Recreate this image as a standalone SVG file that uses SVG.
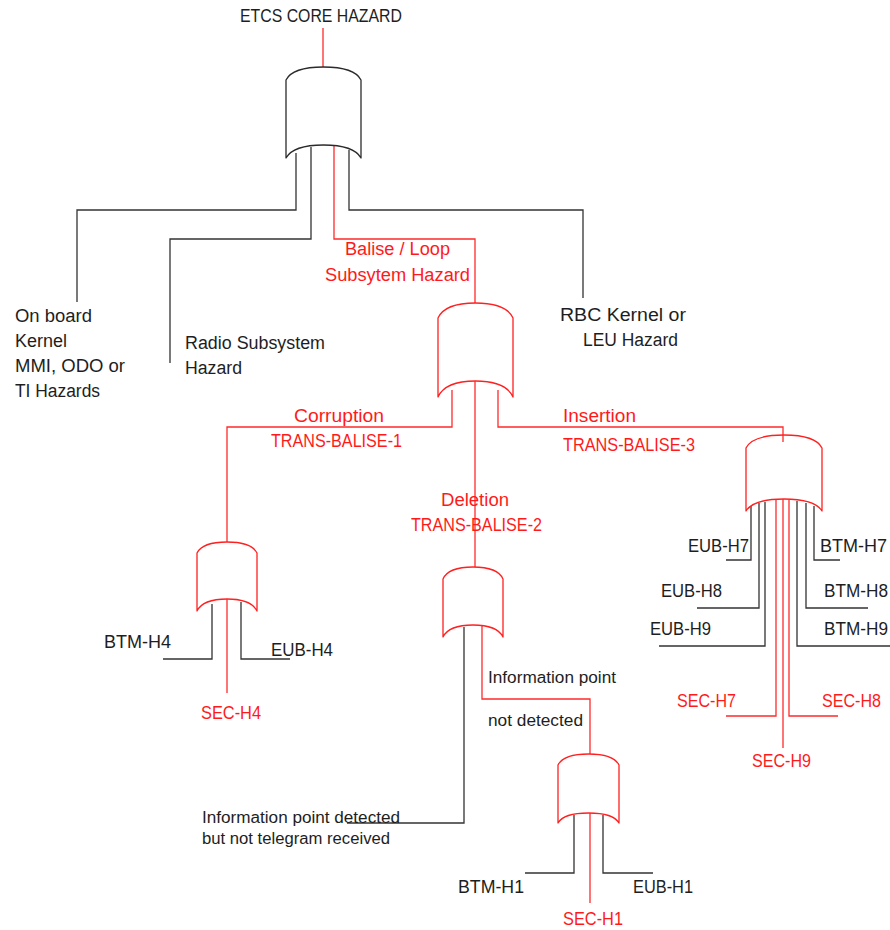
<svg xmlns="http://www.w3.org/2000/svg" width="890" height="930" viewBox="0 0 890 930">
  <style>
    .gate { fill: none; stroke-width: 1.3; stroke-linejoin: round; }
    .gk { stroke: #2b2b2b; }
    .gr { stroke: #ff2020; }
    .wk { fill: none; stroke: #333333; stroke-width: 1.3; }
    .wr { fill: none; stroke: #ff2a2a; stroke-width: 1.3; }
    text { font-family: "Liberation Sans", Arial, sans-serif; font-size: 18px; }
    .tk { fill: #1e1e1e; }
    .tr { fill: #ff1a1a; }
    .sm { font-size: 16px; }
  </style>
  <rect width="890" height="930" fill="#ffffff"/>

  <!-- wiring between gates and events -->
  <g id="connectors">
    <!-- top gate -->
    <polyline class="wr" points="323,28 323,67"/>
    <polyline class="wk" points="296,153 296,210 77,210 77,302"/>
    <polyline class="wk" points="311,147 311,239 170,239 170,363"/>
    <polyline class="wr" points="334,146 334,239 475,239 475,303"/>
    <polyline class="wk" points="349,150 349,210 583,210 583,298"/>
    <!-- balise / loop gate -->
    <polyline class="wr" points="452,390 452,427 227,427 227,542"/>
    <polyline class="wr" points="475,381 475,567"/>
    <polyline class="wr" points="498,390 498,427 783,427 783,442"/>
    <!-- corruption gate -->
    <polyline class="wk" points="212,604 212,659 163,659"/>
    <polyline class="wr" points="227,599 227,693"/>
    <polyline class="wk" points="241,602 241,659 290,659"/>
    <!-- deletion gate -->
    <polyline class="wk" points="464,627 464,823 347,823"/>
    <polyline class="wr" points="482,626 482,699 590,699 590,754"/>
    <!-- H1 gate -->
    <polyline class="wk" points="574,815 574,873 525,873"/>
    <polyline class="wr" points="590,813 590,903"/>
    <polyline class="wk" points="603,815 603,873 653,873"/>
    <!-- insertion gate -->
    <polyline class="wk" points="751,506 751,560 726,560"/>
    <polyline class="wk" points="759,503 759,608 697,608"/>
    <polyline class="wk" points="765,502 765,646 659,646"/>
    <polyline class="wr" points="776,500 776,716 726,716"/>
    <polyline class="wr" points="783,499 783,748"/>
    <polyline class="wr" points="789,500 789,716 838,716"/>
    <polyline class="wk" points="797,501 797,646 890,646"/>
    <polyline class="wk" points="806,503 806,608 868,608"/>
    <polyline class="wk" points="814,506 814,560 840,560"/>
  </g>

  <!-- OR gates -->
  <g id="gate-core">
    <path class="gate gk" d="M286,158 L286,80 C291,70 305,67 323.5,67 C342,67 356,70 361,80 L361,158 C356,149 342,145 323.5,145 C305,145 291,149 286,158 Z"/>
  </g>
  <g id="gate-balise">
    <path class="gate gr" d="M438,397 L438,318 C443,307 457,303 475.5,303 C494,303 508,307 513,318 L513,397 C508,386 494,381 475.5,381 C457,381 443,386 438,397 Z"/>
  </g>
  <g id="gate-corruption">
    <path class="gate gr" d="M197,611 L197,553 C201,545 212,542 227,542 C242,542 253,545 257,553 L257,611 C253,603 242,599 227,599 C212,599 201,603 197,611 Z"/>
  </g>
  <g id="gate-deletion">
    <path class="gate gr" d="M443,637 L443,579 C447,570 458,567 473,567 C488,567 499,570 503,579 L503,637 C499,629 488,625 473,625 C458,625 447,629 443,637 Z"/>
  </g>
  <g id="gate-insertion">
    <path class="gate gr" d="M746,511 L746,448 C751,438 765,435 784,435 C803,435 817,438 822,448 L822,511 C817,503 803,499 784,499 C765,499 751,503 746,511 Z"/>
  </g>
  <g id="gate-h1">
    <path class="gate gr" d="M558,823 L558,765 C562,757 573,754 588.5,754 C604,754 615,757 619,765 L619,823 C615,816 604,813 588.5,813 C573,813 562,816 558,823 Z"/>
  </g>

  <!-- event labels -->
  <g id="top-event">
    <text class="tk" x="240" y="22" textLength="162" lengthAdjust="spacingAndGlyphs">ETCS CORE HAZARD</text>
  </g>
  <g id="onboard-hazard">
    <text class="tk" x="15" y="322" textLength="77" lengthAdjust="spacingAndGlyphs">On board</text>
    <text class="tk" x="15" y="347" textLength="52" lengthAdjust="spacingAndGlyphs">Kernel</text>
    <text class="tk" x="15" y="372" textLength="110" lengthAdjust="spacingAndGlyphs">MMI, ODO or</text>
    <text class="tk" x="15" y="397" textLength="85" lengthAdjust="spacingAndGlyphs">TI Hazards</text>
  </g>
  <g id="radio-hazard">
    <text class="tk" x="185" y="349" textLength="140" lengthAdjust="spacingAndGlyphs">Radio Subsystem</text>
    <text class="tk" x="185" y="374" textLength="57" lengthAdjust="spacingAndGlyphs">Hazard</text>
  </g>
  <g id="balise-hazard">
    <text class="tr" x="345" y="255" textLength="105" lengthAdjust="spacingAndGlyphs">Balise / Loop</text>
    <text class="tr" x="325" y="281" textLength="145" lengthAdjust="spacingAndGlyphs">Subsytem Hazard</text>
  </g>
  <g id="rbc-hazard">
    <text class="tk" x="560" y="321" textLength="126" lengthAdjust="spacingAndGlyphs">RBC Kernel or</text>
    <text class="tk" x="583" y="346" textLength="95" lengthAdjust="spacingAndGlyphs">LEU Hazard</text>
  </g>
  <g id="trans-balise-1">
    <text class="tr" x="294" y="422" textLength="90" lengthAdjust="spacingAndGlyphs">Corruption</text>
    <text class="tr" x="271" y="447" textLength="131" lengthAdjust="spacingAndGlyphs">TRANS-BALISE-1</text>
  </g>
  <g id="trans-balise-2">
    <text class="tr" x="441" y="506" textLength="68" lengthAdjust="spacingAndGlyphs">Deletion</text>
    <text class="tr" x="411" y="531" textLength="131" lengthAdjust="spacingAndGlyphs">TRANS-BALISE-2</text>
  </g>
  <g id="trans-balise-3">
    <text class="tr" x="563" y="422" textLength="73" lengthAdjust="spacingAndGlyphs">Insertion</text>
    <text class="tr" x="563" y="451" textLength="132" lengthAdjust="spacingAndGlyphs">TRANS-BALISE-3</text>
  </g>
  <g id="btm-h4"><text class="tk" x="104" y="648" textLength="67" lengthAdjust="spacingAndGlyphs">BTM-H4</text></g>
  <g id="eub-h4"><text class="tk" x="271" y="656" textLength="62" lengthAdjust="spacingAndGlyphs">EUB-H4</text></g>
  <g id="sec-h4"><text class="tr" x="201" y="719" textLength="60" lengthAdjust="spacingAndGlyphs">SEC-H4</text></g>
  <g id="ip-not-detected">
    <text class="tk sm" x="488" y="683" textLength="128" lengthAdjust="spacingAndGlyphs">Information point</text>
    <text class="tk sm" x="488" y="726" textLength="95" lengthAdjust="spacingAndGlyphs">not detected</text>
  </g>
  <g id="ip-detected">
    <text class="tk sm" x="202" y="823" textLength="198" lengthAdjust="spacingAndGlyphs">Information point detected</text>
    <text class="tk sm" x="202" y="844" textLength="188" lengthAdjust="spacingAndGlyphs">but not telegram received</text>
  </g>
  <g id="btm-h1"><text class="tk" x="458" y="893" textLength="66" lengthAdjust="spacingAndGlyphs">BTM-H1</text></g>
  <g id="eub-h1"><text class="tk" x="633" y="893" textLength="60" lengthAdjust="spacingAndGlyphs">EUB-H1</text></g>
  <g id="sec-h1"><text class="tr" x="563" y="925" textLength="60" lengthAdjust="spacingAndGlyphs">SEC-H1</text></g>
  <g id="eub-h7"><text class="tk" x="688" y="552" textLength="61" lengthAdjust="spacingAndGlyphs">EUB-H7</text></g>
  <g id="btm-h7"><text class="tk" x="820" y="552" textLength="67" lengthAdjust="spacingAndGlyphs">BTM-H7</text></g>
  <g id="eub-h8"><text class="tk" x="661" y="597" textLength="61" lengthAdjust="spacingAndGlyphs">EUB-H8</text></g>
  <g id="btm-h8"><text class="tk" x="824" y="597" textLength="64" lengthAdjust="spacingAndGlyphs">BTM-H8</text></g>
  <g id="eub-h9"><text class="tk" x="650" y="635" textLength="61" lengthAdjust="spacingAndGlyphs">EUB-H9</text></g>
  <g id="btm-h9"><text class="tk" x="824" y="635" textLength="64" lengthAdjust="spacingAndGlyphs">BTM-H9</text></g>
  <g id="sec-h7"><text class="tr" x="677" y="707" textLength="59" lengthAdjust="spacingAndGlyphs">SEC-H7</text></g>
  <g id="sec-h8"><text class="tr" x="822" y="707" textLength="59" lengthAdjust="spacingAndGlyphs">SEC-H8</text></g>
  <g id="sec-h9"><text class="tr" x="752" y="767" textLength="59" lengthAdjust="spacingAndGlyphs">SEC-H9</text></g>
</svg>
